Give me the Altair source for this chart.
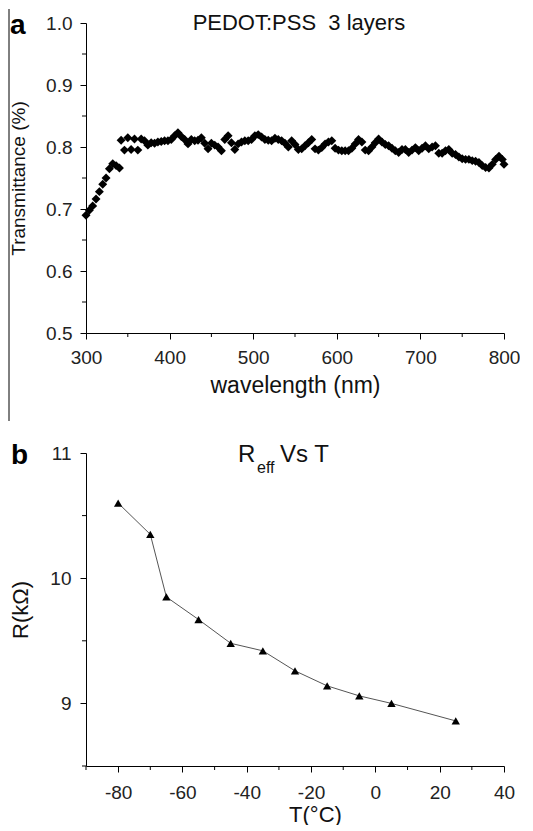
import altair as alt
import pandas as pd

# ---------------- data ----------------
wavelength = [300, 304, 308, 312, 316, 320, 324, 328, 332, 336, 340, 342, 346, 350, 354, 358, 362, 366,
              370, 374, 378, 382, 386, 390, 394, 398, 402, 406, 410, 414, 418, 422, 426, 430, 434, 438,
              442, 446, 450, 454, 458, 462, 466, 470, 474, 478, 482, 486, 490, 494, 498, 502, 506, 510,
              514, 518, 522, 526, 530, 534, 538, 542, 546, 550, 554, 558, 562, 566, 570, 574, 578, 582,
              586, 590, 594, 598, 602, 606, 610, 614, 618, 622, 626, 630, 634, 638, 642, 646, 650, 654,
              658, 662, 666, 670, 674, 678, 682, 686, 690, 694, 698, 702, 706, 710, 714, 718, 722, 726,
              730, 734, 738, 742, 746, 750, 754, 758, 762, 766, 770, 774, 778, 782, 786, 790, 794, 798, 800]
transmittance = [0.690, 0.698, 0.705, 0.716, 0.728, 0.740, 0.750, 0.765, 0.773, 0.770, 0.766, 0.811, 0.795,
                 0.815, 0.796, 0.813, 0.795, 0.813, 0.810, 0.803, 0.807, 0.806, 0.808, 0.809, 0.810, 0.810,
                 0.812, 0.818, 0.823, 0.817, 0.812, 0.805, 0.812, 0.810, 0.811, 0.815, 0.806, 0.797, 0.806,
                 0.803, 0.800, 0.794, 0.812, 0.818, 0.807, 0.796, 0.805, 0.808, 0.810, 0.810, 0.812, 0.818,
                 0.820, 0.816, 0.812, 0.811, 0.810, 0.814, 0.812, 0.810, 0.806, 0.800, 0.810, 0.804, 0.796,
                 0.797, 0.802, 0.807, 0.812, 0.797, 0.795, 0.799, 0.805, 0.808, 0.810, 0.798, 0.795, 0.794,
                 0.794, 0.794, 0.798, 0.805, 0.812, 0.808, 0.795, 0.794, 0.800, 0.807, 0.813, 0.808, 0.804,
                 0.802, 0.798, 0.794, 0.791, 0.796, 0.796, 0.791, 0.795, 0.799, 0.794, 0.798, 0.802, 0.797,
                 0.800, 0.802, 0.790, 0.790, 0.794, 0.796, 0.790, 0.788, 0.784, 0.781, 0.780, 0.780, 0.778,
                 0.777, 0.775, 0.770, 0.767, 0.766, 0.772, 0.780, 0.785, 0.780, 0.772]

temperature = [-80, -70, -65, -55, -45, -35, -25, -15, -5, 5, 25]
resistance = [10.60, 10.35, 9.85, 9.67, 9.48, 9.42, 9.26, 9.14, 9.06, 9.00, 8.86]

# tick positions (major = labelled, minor = unlabelled)
x_major_a = [300, 400, 500, 600, 700, 800]
x_minor_a = [350, 450, 550, 650, 750]
y_major_a = [0.5, 0.6, 0.7, 0.8, 0.9, 1.0]
y_minor_a = [0.55, 0.65, 0.75, 0.85, 0.95]
x_major_b = [-80, -60, -40, -20, 0, 20, 40]
x_minor_b = [-90, -70, -50, -30, -10, 10, 30]
y_major_b = [9, 10, 11]
y_minor_b = [8.5, 9.5, 10.5]

title_a = "PEDOT:PSS\u00a0 3 layers"
FONT = "Liberation Sans"
W, HA, HB = 418, 310, 313
MAJ, MIN = 6, 4

df_a = pd.DataFrame({"wl": wavelength, "T": transmittance})
df_b = pd.DataFrame({"temp": temperature, "R": resistance})
one = alt.Data(values=[{}])

sx_a = alt.Scale(domain=[300, 800], nice=False, zero=False)
sy_a = alt.Scale(domain=[0.5, 1.0], nice=False, zero=False)
sx_b = alt.Scale(domain=[-90, 40], nice=False, zero=False)
sy_b = alt.Scale(domain=[8.5, 11], nice=False, zero=False)

ax_xa = alt.Axis(values=x_major_a, format="d", tickSize=MAJ, labelFontSize=19,
                 labelPadding=9, labelFlush=False, labelOverlap=False,
                 title="wavelength (nm)", titleFontSize=23, titleY=59,
                 titleBaseline="alphabetic")
ax_ya = alt.Axis(values=y_major_a, format=".1f", tickSize=MAJ, labelFontSize=19,
                 labelPadding=8, labelFlush=False, labelOverlap=False,
                 title="Transmittance (%)", titleFontSize=19, titlePadding=17)
ax_xb = alt.Axis(values=x_major_b, labelExpr="'' + datum.value", tickSize=MAJ,
                 labelFontSize=19, labelPadding=11, labelFlush=False, labelOverlap=False,
                 title="T(°C)", titleFontSize=22, titleX=229, titleY=55,
                 titleBaseline="alphabetic", titleAlign="center")
ax_yb = alt.Axis(values=y_major_b, labelExpr="'' + datum.value", tickSize=MAJ,
                 labelFontSize=19, labelPadding=9, labelFlush=False, labelOverlap=False,
                 title="R(kΩ)", titleFontSize=22, titlePadding=17)


def minor_x(values, scale, axis, h):
    return alt.Chart(pd.DataFrame({"mv": values})).mark_rule(color="black", strokeWidth=1).encode(
        x=alt.X("mv:Q", scale=scale, axis=axis), y=alt.value(h), y2=alt.value(h + MIN))


def minor_y(values, scale, axis):
    return alt.Chart(pd.DataFrame({"mv": values})).mark_rule(color="black", strokeWidth=1).encode(
        y=alt.Y("mv:Q", scale=scale, axis=axis), x=alt.value(-MIN), x2=alt.value(0))


# ---------------- panel a ----------------
points_a = alt.Chart(df_a).mark_point(shape="diamond", filled=True, color="black",
                                      size=80, opacity=1).encode(
    x=alt.X("wl:Q", scale=sx_a, axis=ax_xa),
    y=alt.Y("T:Q", scale=sy_a, axis=ax_ya),
)

title_a_mark = alt.Chart(one).mark_text(font=FONT, fontSize=22, color="#111", align="center",
                                        baseline="alphabetic").encode(
    x=alt.value(213), y=alt.value(7), text=alt.value(title_a))
label_a = alt.Chart(one).mark_text(font=FONT, fontSize=28, fontWeight="bold", color="black",
                                   align="left", baseline="alphabetic").encode(
    x=alt.value(-76), y=alt.value(11), text=alt.value("a"))
edge_line = alt.Chart(one).mark_rule(color="black", strokeWidth=1).encode(
    x=alt.value(-77), y=alt.value(-14), y2=alt.value(398))

panel_a = alt.layer(
    points_a,
    minor_x(x_minor_a, sx_a, ax_xa, HA), minor_y(y_minor_a, sy_a, ax_ya),
    edge_line, title_a_mark, label_a,
).properties(width=W, height=HA)

# ---------------- panel b ----------------
line_b = alt.Chart(df_b).mark_line(color="#555", strokeWidth=1).encode(
    x=alt.X("temp:Q", scale=sx_b, axis=ax_xb), y=alt.Y("R:Q", scale=sy_b, axis=ax_yb))
pts_b = alt.Chart(df_b).mark_point(shape="triangle-up", filled=True, color="black",
                                   size=70, opacity=1).encode(
    x=alt.X("temp:Q", scale=sx_b, axis=ax_xb), y=alt.Y("R:Q", scale=sy_b, axis=ax_yb))

t_R = alt.Chart(one).mark_text(font=FONT, fontSize=24, color="#111", align="left",
                               baseline="alphabetic").encode(
    x=alt.value(152), y=alt.value(9), text=alt.value("R"))
t_eff = alt.Chart(one).mark_text(font=FONT, fontSize=16, color="#111", align="left",
                                 baseline="alphabetic").encode(
    x=alt.value(171), y=alt.value(20), text=alt.value("eff"))
t_vs = alt.Chart(one).mark_text(font=FONT, fontSize=24, color="#111", align="left",
                                baseline="alphabetic").encode(
    x=alt.value(194), y=alt.value(9), text=alt.value("Vs T"))
label_b = alt.Chart(one).mark_text(font=FONT, fontSize=28, fontWeight="bold", color="black",
                                   align="left", baseline="alphabetic").encode(
    x=alt.value(-75), y=alt.value(11), text=alt.value("b"))

panel_b = alt.layer(
    line_b, pts_b,
    minor_x(x_minor_b, sx_b, ax_xb, HB), minor_y(y_minor_b, sy_b, ax_yb),
    t_R, t_eff, t_vs, label_b,
).properties(width=W, height=HB)

chart = alt.vconcat(panel_a, panel_b, spacing=120, bounds="flush").properties(
    padding=0
).configure_view(stroke=None).configure_axis(
    domainColor="black", tickColor="black", labelColor="#222", titleColor="#111",
    labelFont=FONT, titleFont=FONT, titleFontWeight="normal", grid=False,
    tickWidth=1, domainWidth=1,
)

chart.save("out.html", embed_options={"renderer": "svg", "actions": False})
